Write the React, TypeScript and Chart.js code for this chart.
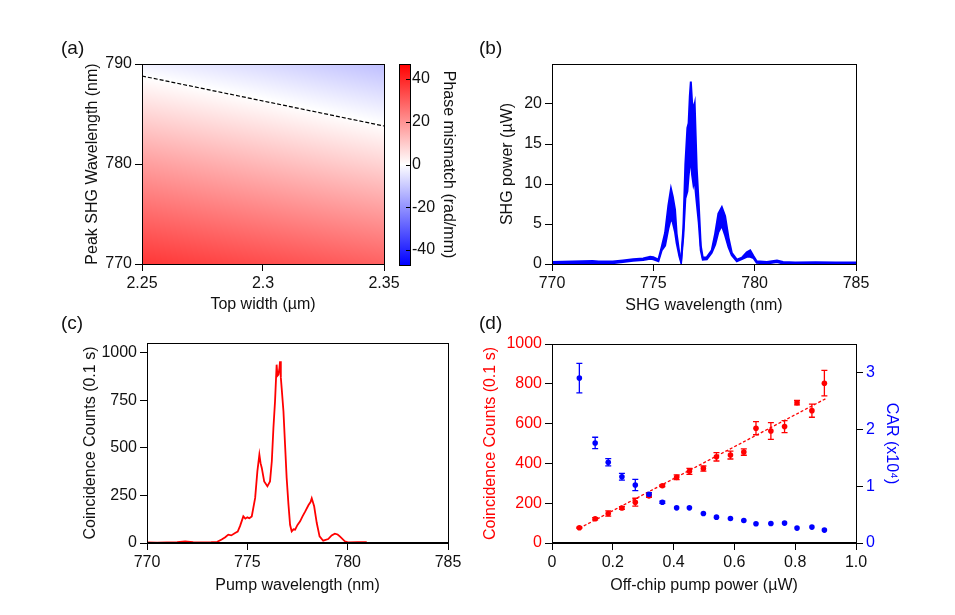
import React, { useEffect, useRef } from 'react';
import { Chart, registerables } from 'chart.js';

Chart.register(...registerables);

const FONT_FAMILY = "'Liberation Sans', Arial, Helvetica, sans-serif";
const TICK_FONT = { family: FONT_FAMILY, size: 16 };
const TITLE_FONT = { family: FONT_FAMILY, size: 16 };
const INK = '#111111';
const RED = '#ff0000';
const BLUE = '#0000ff';

// ---------- (a) phase-mismatch map ----------
const topWidthTicks = [2.25, 2.3, 2.35];
const peakWavelengthTicks = [770, 780, 790];
const heatTopWidths = [2.25, 2.3, 2.35];
const heatWavelengths = [770, 780, 790];
const phaseAtWidth225 = [37, 18, -2.5];
const phaseAtWidth230 = [33, 13, -7];
const phaseAtWidth235 = [29, 8, -12];
const zeroLineTopWidths = [2.25, 2.35];
const zeroLineWavelengths = [788.8, 783.8];
const colorbarRange = [-47, 47];
const colorbarTicks = [-40, -20, 0, 20, 40];

// ---------- (b) SHG spectrum (upper / lower envelope of the noisy trace) ----------
const shgWavelengths = [770, 771, 772, 772.3, 773, 773.5, 774, 774.5, 774.84, 775.0, 775.25, 775.41, 775.58, 775.74, 775.87, 775.96, 776.07, 776.15, 776.29, 776.37, 776.48, 776.58, 776.68, 776.74, 776.8, 776.85, 776.91, 776.98, 777.04, 777.09, 777.14, 777.24, 777.34, 777.44, 777.64, 777.88, 778.05, 778.21, 778.38, 778.54, 778.71, 778.87, 779.12, 779.37, 779.61, 779.78, 779.94, 780.1, 780.6, 781.1, 781.4, 782, 783, 784, 785];
const shgPowerUpper = [0.25, 0.3, 0.38, 0.3, 0.3, 0.45, 0.6, 0.7, 0.9, 0.85, 0.55, 2.1, 3.9, 7.3, 9.4, 8.4, 6.8, 3.8, 1.2, 0.4, 4.5, 12.5, 17, 17.6, 21, 22.8, 20.3, 19.3, 20, 16, 12, 7.5, 2.3, 0.8, 0.85, 1.7, 3.8, 6.3, 7.1, 6.0, 3.3, 1.4, 0.55, 0.8, 1.45, 1.7, 1.0, 0.35, 0.25, 0.45, 0.25, 0.2, 0.22, 0.2, 0.2];
const shgPowerLower = [0.05, 0.1, 0.15, 0.1, 0.1, 0.25, 0.4, 0.5, 0.65, 0.6, 0.35, 1.7, 2.3, 4.4, 5.7, 5.2, 4.0, 2.6, 0.9, 0.2, 3.5, 8.2, 9.1, 11, 12.4, 13.3, 11.2, 9.9, 10.5, 9, 7.7, 5.2, 1.7, 0.55, 0.6, 1.4, 2.4, 4.0, 4.8, 3.6, 2.1, 1.1, 0.35, 0.6, 0.9, 0.9, 0.75, 0.15, 0.05, 0.25, 0.05, 0.02, 0.05, 0.02, 0.02];
const shgPowerTicks = [0, 5, 10, 15, 20];
const wavelengthTicks = [770, 775, 780, 785];

// ---------- (c) coincidence spectrum ----------
const pumpWavelengths = [770, 770.5, 771, 771.5, 771.9, 772.3, 772.8, 773.2, 773.5, 773.72, 773.9, 774.05, 774.2, 774.39, 774.52, 774.64, 774.8, 774.9, 775.0, 775.1, 775.22, 775.39, 775.5, 775.6, 775.66, 775.72, 775.84, 776.0, 776.13, 776.22, 776.3, 776.38, 776.46, 776.5, 776.55, 776.6, 776.63, 776.67, 776.71, 776.8, 776.88, 776.96, 777.05, 777.13, 777.21, 777.3, 777.38, 777.5, 777.63, 777.75, 777.88, 778.05, 778.15, 778.21, 778.33, 778.46, 778.6, 778.78, 779.03, 779.2, 779.36, 779.5, 779.61, 779.86, 780.02, 780.5, 780.95];
const coincidenceCounts = [3, 2, 3, 5, 9, 4, 3, 4, 6, 18, 30, 44, 40, 53, 60, 90, 140, 128, 135, 130, 140, 237, 377, 465, 420, 395, 324, 298, 324, 430, 605, 745, 938, 880, 886, 920, 956, 870, 816, 693, 517, 342, 202, 96, 61, 72, 70, 95, 114, 140, 165, 200, 215, 235, 193, 105, 35, 12, 21, 40, 49, 45, 35, 9, 3, 4, 4];
const countsTicksC = [0, 250, 500, 750, 1000];

// ---------- (d) counts & CAR vs pump power ----------
const pumpPowers = [0.09, 0.142, 0.185, 0.23, 0.274, 0.319, 0.363, 0.41, 0.452, 0.498, 0.541, 0.587, 0.631, 0.671, 0.72, 0.765, 0.806, 0.855, 0.896];
const countsVsPower = [77, 122, 148, 176, 205, 237, 288, 330, 360, 374, 433, 442, 457, 577, 563, 585, 705, 665, 803];
const countsErrors = [3, 6, 13, 7, 20, 8, 5, 12, 15, 13, 21, 20, 16, 33, 42, 30, 11, 33, 64];
const carValues = [2.9, 1.76, 1.42, 1.165, 1.02, 0.857, 0.717, 0.618, 0.618, 0.518, 0.455, 0.43, 0.396, 0.338, 0.343, 0.35, 0.262, 0.28, 0.227];
const carErrors = [0.26, 0.1, 0.065, 0.06, 0.1, 0.03, 0.02, 0, 0, 0, 0, 0, 0, 0, 0, 0, 0, 0, 0];
const fitPowers = [0.09, 0.9];
const fitCounts = [74, 725];
const powerTicks = [0, 0.2, 0.4, 0.6, 0.8, 1.0];
const countsTicksD = [0, 200, 400, 600, 800, 1000];
const carTicks = [0, 1, 2, 3];

// ---------- helpers ----------
const pts = (xs: number[], ys: number[]) => xs.map((x, i) => ({ x, y: ys[i] }));

type Geo = { l: number; t: number; r: number; b: number; ml: number; mt: number; mr: number; mb: number };
const rectOf = (g: Geo) => ({ left: g.l - g.ml, top: g.t - g.mt, w: g.r - g.l + g.ml + g.mr, h: g.b - g.t + g.mt + g.mb });

function axis(o: {
  position: string; min: number; max: number; ticks: number[]; title: string; size: number;
  color?: string; titleColor?: string; fmt?: (v: number) => string; display?: boolean;
}) {
  const horizontal = o.position === 'bottom';
  return {
    type: 'linear',
    position: o.position,
    display: o.display ?? true,
    min: o.min,
    max: o.max,
    afterBuildTicks: (s: any) => { s.ticks = o.ticks.map((v) => ({ value: v })); },
    afterFit: (s: any) => { if (horizontal) s.height = o.size; else s.width = o.size; },
    grid: { drawOnChartArea: false, drawTicks: true, tickLength: 7, color: '#000', lineWidth: 1 },
    border: { display: false },
    ticks: {
      color: o.color ?? INK, font: TICK_FONT, padding: 3, maxRotation: 0, autoSkip: false,
      callback: (v: any) => (o.fmt ? o.fmt(Number(v)) : String(v)),
    },
    title: { display: true, text: o.title, color: o.titleColor ?? INK, font: TITLE_FONT, padding: { top: 4, bottom: 4 } },
  };
}

const framePlugin = {
  id: 'frame',
  afterDraw(chart: any, _a: any, opts: any) {
    const { ctx, chartArea: a } = chart;
    const l = Math.round(a.left) + 0.5, r = Math.round(a.right) + 0.5;
    const t = Math.round(a.top) + 0.5, b = Math.round(a.bottom) + 0.5;
    ctx.save();
    ctx.strokeStyle = '#000';
    ctx.lineWidth = 1;
    ctx.strokeRect(l, t, r - l, b - t);
    if (opts && opts.bottomWidth && opts.bottomWidth > 1) {
      ctx.lineWidth = opts.bottomWidth;
      ctx.beginPath();
      ctx.moveTo(l - 0.5, Math.round(a.bottom));
      ctx.lineTo(r + 0.5, Math.round(a.bottom));
      ctx.stroke();
    }
    ctx.restore();
  },
};

const errorBarPlugin = {
  id: 'errorBars',
  beforeDatasetsDraw(chart: any) {
    const ctx = chart.ctx;
    chart.data.datasets.forEach((ds: any, i: number) => {
      if (!ds.errorBars) return;
      const meta = chart.getDatasetMeta(i);
      const ys = chart.scales[meta.yAxisID];
      ctx.save();
      ctx.strokeStyle = ds.borderColor;
      ctx.lineWidth = 1.3;
      meta.data.forEach((pt: any, j: number) => {
        const e = ds.errorBars[j];
        if (!e) return;
        const val = ds.data[j].y;
        const top = ys.getPixelForValue(val + e);
        const bot = ys.getPixelForValue(val - e);
        ctx.beginPath();
        ctx.moveTo(pt.x, top); ctx.lineTo(pt.x, bot);
        ctx.moveTo(pt.x - 3, top); ctx.lineTo(pt.x + 3, top);
        ctx.moveTo(pt.x - 3, bot); ctx.lineTo(pt.x + 3, bot);
        ctx.stroke();
      });
      ctx.restore();
    });
  },
};

function phaseColor(v: number) {
  const f = Math.min(1, Math.abs(v) / colorbarRange[1]);
  const c = Math.round(255 * (1 - f));
  return v >= 0 ? `rgb(255,${c},${c})` : `rgb(${c},${c},255)`;
}

function lerpIndex(arr: number[], v: number) {
  let i = 0;
  while (i < arr.length - 2 && v > arr[i + 1]) i++;
  const t = (v - arr[i]) / (arr[i + 1] - arr[i]);
  return { i, t: Math.max(0, Math.min(1, t)) };
}

function phaseAt(w: number, lam: number) {
  const rows = [phaseAtWidth225, phaseAtWidth230, phaseAtWidth235];
  const a = lerpIndex(heatTopWidths, w);
  const b = lerpIndex(heatWavelengths, lam);
  const v0 = rows[a.i][b.i] * (1 - b.t) + rows[a.i][b.i + 1] * b.t;
  const v1 = rows[a.i + 1][b.i] * (1 - b.t) + rows[a.i + 1][b.i + 1] * b.t;
  return v0 * (1 - a.t) + v1 * a.t;
}

const heatmapPlugin = {
  id: 'heatmap',
  beforeDatasetsDraw(chart: any) {
    const { ctx, chartArea: a, scales } = chart;
    const x0 = Math.round(a.left), x1 = Math.round(a.right);
    const y0 = Math.round(a.top), y1 = Math.round(a.bottom);
    ctx.save();
    for (let px = x0; px < x1; px++) {
      const w = scales.x.getValueForPixel(px + 0.5);
      for (let py = y0; py < y1; py++) {
        const lam = scales.y.getValueForPixel(py + 0.5);
        ctx.fillStyle = phaseColor(phaseAt(w, lam));
        ctx.fillRect(px, py, 1, 1);
      }
    }
    ctx.restore();
  },
};

const colorbarPlugin = {
  id: 'colorbar',
  beforeDatasetsDraw(chart: any) {
    const { ctx, chartArea: a, scales } = chart;
    const y = scales.y;
    const g = ctx.createLinearGradient(0, y.getPixelForValue(colorbarRange[0]), 0, y.getPixelForValue(colorbarRange[1]));
    g.addColorStop(0, BLUE);
    g.addColorStop(0.5, '#ffffff');
    g.addColorStop(1, RED);
    ctx.save();
    ctx.fillStyle = g;
    ctx.fillRect(a.left, a.top, a.right - a.left, a.bottom - a.top);
    ctx.strokeStyle = '#000';
    ctx.lineWidth = 1;
    ctx.beginPath();
    y.ticks.forEach((t: any) => {
      const py = Math.round(y.getPixelForValue(t.value)) + 0.5;
      ctx.moveTo(a.right - 4, py);
      ctx.lineTo(a.right, py);
    });
    ctx.stroke();
    ctx.restore();
  },
};

const baseOptions = (g: Geo, rightAxis: boolean) => ({
  responsive: false,
  animation: false,
  events: [],
  layout: { padding: { left: 0, top: g.mt, right: rightAxis ? 0 : g.mr, bottom: 0 } },
  plugins: { legend: { display: false }, tooltip: { enabled: false }, frame: {} as any },
});

// ---------- geometry ----------
const GEO_A: Geo = { l: 142, t: 64, r: 384, b: 264, ml: 63, mt: 24, mr: 20, mb: 54 };
const GEO_CB: Geo = { l: 399, t: 64, r: 410, b: 265, ml: 5, mt: 24, mr: 52, mb: 20 };
const GEO_B: Geo = { l: 552, t: 64, r: 856, b: 264, ml: 58, mt: 24, mr: 22, mb: 55 };
const GEO_C: Geo = { l: 147, t: 343, r: 448, b: 543, ml: 70, mt: 24, mr: 22, mb: 56 };
const GEO_D: Geo = { l: 552, t: 344, r: 856, b: 543, ml: 75, mt: 24, mr: 49, mb: 56 };

function configA() {
  const o: any = baseOptions(GEO_A, false);
  o.scales = {
    x: axis({ position: 'bottom', min: 2.25, max: 2.35, ticks: topWidthTicks, title: 'Top width (µm)', size: GEO_A.mb }),
    y: axis({ position: 'left', min: 770, max: 790, ticks: peakWavelengthTicks, title: 'Peak SHG Wavelength (nm)', size: GEO_A.ml }),
  };
  return {
    type: 'scatter',
    data: {
      datasets: [{
        data: pts(zeroLineTopWidths, zeroLineWavelengths), showLine: true, borderColor: '#000', borderWidth: 1.2,
        borderDash: [4, 2], pointRadius: 0, fill: false,
      }],
    },
    options: o,
    plugins: [heatmapPlugin, framePlugin],
  };
}

function configCB() {
  const o: any = baseOptions(GEO_CB, true);
  o.layout.padding.left = GEO_CB.ml;
  o.layout.padding.bottom = GEO_CB.mb;
  const y: any = axis({ position: 'right', min: colorbarRange[0], max: colorbarRange[1], ticks: colorbarTicks, title: 'Phase mismatch (rad/mm)', size: GEO_CB.mr });
  y.grid = { drawOnChartArea: false, drawTicks: false };
  y.ticks.padding = 2;
  o.scales = {
    x: { type: 'linear', display: false, min: 0, max: 1 },
    y,
  };
  return { type: 'scatter', data: { datasets: [] }, options: o, plugins: [colorbarPlugin, framePlugin] };
}

function configB() {
  const o: any = baseOptions(GEO_B, false);
  o.scales = {
    x: axis({ position: 'bottom', min: 770, max: 785, ticks: wavelengthTicks, title: 'SHG wavelength (nm)', size: GEO_B.mb }),
    y: axis({ position: 'left', min: 0, max: 25, ticks: shgPowerTicks, title: 'SHG power (µW)', size: GEO_B.ml }),
  };
  return {
    type: 'scatter',
    data: {
      datasets: [
        { data: pts(shgWavelengths, shgPowerUpper), showLine: true, borderColor: BLUE, borderWidth: 2, pointRadius: 0, fill: false, tension: 0 },
        { data: pts(shgWavelengths, shgPowerLower), showLine: true, borderColor: BLUE, borderWidth: 2, pointRadius: 0, fill: '-1', backgroundColor: BLUE, tension: 0 },
      ],
    },
    options: o,
    plugins: [framePlugin],
  };
}

function configC() {
  const o: any = baseOptions(GEO_C, false);
  o.plugins.frame = { bottomWidth: 2 };
  o.scales = {
    x: axis({ position: 'bottom', min: 770, max: 785, ticks: wavelengthTicks, title: 'Pump wavelength (nm)', size: GEO_C.mb }),
    y: axis({ position: 'left', min: 0, max: 1052, ticks: countsTicksC, title: 'Coincidence Counts (0.1 s)', size: GEO_C.ml }),
  };
  return {
    type: 'scatter',
    data: {
      datasets: [
        { data: pts(pumpWavelengths, coincidenceCounts), showLine: true, borderColor: RED, borderWidth: 1.8, pointRadius: 0, fill: false, tension: 0 },
      ],
    },
    options: o,
    plugins: [framePlugin],
  };
}

function configD() {
  const o: any = baseOptions(GEO_D, true);
  o.plugins.frame = { bottomWidth: 2 };
  o.scales = {
    x: axis({ position: 'bottom', min: 0, max: 1, ticks: powerTicks, title: 'Off-chip pump power (µW)', size: GEO_D.mb, fmt: (v) => (v === 1 ? '1.0' : String(v)) }),
    y: axis({ position: 'left', min: 0, max: 1000, ticks: countsTicksD, title: 'Coincidence Counts (0.1 s)', size: GEO_D.ml, color: RED, titleColor: RED }),
    y2: axis({ position: 'right', min: 0, max: 3.5, ticks: carTicks, title: 'CAR (x10⁴)', size: GEO_D.mr, color: BLUE, titleColor: BLUE }),
  };
  return {
    type: 'scatter',
    data: {
      datasets: [
        { data: pts(pumpPowers, carValues), yAxisID: 'y2', borderColor: BLUE, backgroundColor: BLUE, pointRadius: 2.8, pointBorderWidth: 0, errorBars: carErrors },
        { data: pts(pumpPowers, countsVsPower), yAxisID: 'y', borderColor: RED, backgroundColor: RED, pointRadius: 2.8, pointBorderWidth: 0, errorBars: countsErrors },
        { data: pts(fitPowers, fitCounts), yAxisID: 'y', showLine: true, borderColor: RED, borderWidth: 1.3, borderDash: [3, 2], pointRadius: 0, fill: false },
      ],
    },
    options: o,
    plugins: [errorBarPlugin, framePlugin],
  };
}

function ChartCanvas({ geo, build }: { geo: Geo; build: () => any }) {
  const ref = useRef<HTMLCanvasElement | null>(null);
  const r = rectOf(geo);
  useEffect(() => {
    const chart = new Chart(ref.current as HTMLCanvasElement, build());
    return () => chart.destroy();
  }, []);
  return (
    <canvas
      ref={ref}
      width={r.w}
      height={r.h}
      style={{ position: 'absolute', left: r.left, top: r.top, width: r.w, height: r.h }}
    />
  );
}

const labelStyle = (left: number, top: number): React.CSSProperties => ({
  position: 'absolute', left, top, fontFamily: FONT_FAMILY, fontSize: 19, lineHeight: '19px', color: INK,
});

export default function App() {
  return (
    <div style={{ position: 'absolute', left: 0, top: 0, width: 955, height: 615, background: '#fff', overflow: 'hidden' }}>
      <ChartCanvas geo={GEO_A} build={configA} />
      <ChartCanvas geo={GEO_CB} build={configCB} />
      <ChartCanvas geo={GEO_B} build={configB} />
      <ChartCanvas geo={GEO_C} build={configC} />
      <ChartCanvas geo={GEO_D} build={configD} />
      <div style={labelStyle(61, 38)}>(a)</div>
      <div style={labelStyle(479, 38)}>(b)</div>
      <div style={labelStyle(61, 313)}>(c)</div>
      <div style={labelStyle(479, 313)}>(d)</div>
    </div>
  );
}
